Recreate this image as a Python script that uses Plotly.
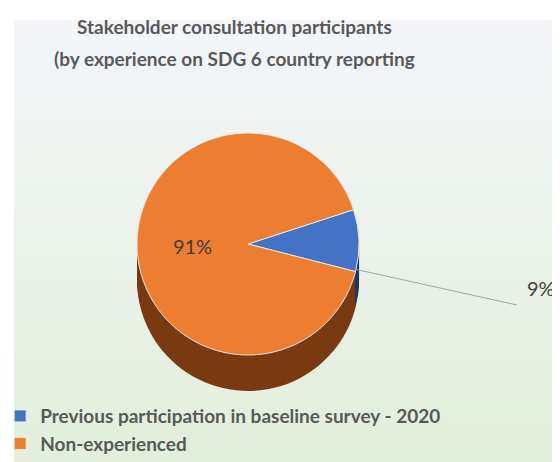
import math
import plotly.graph_objects as go

categories = ["Previous participation in baseline survey - 2020", "Non-experienced"]
values = [9, 91]
colors = ["#4472C4", "#ED7D31"]
side_colors = ["#1F3864", "#7A3A12"]
title_lines = ["Stakeholder consultation participants", "(by experience on SDG 6 country reporting"]

W, H = 560, 462
fig = go.Figure()

# pie geometry (pixels, styling only)
cx, cy, diam, depth = 240, 236, 222, 36
rot = 72


def dom(center_y):
    yc = 1 - center_y / H
    half = diam / 2 / H
    xc = cx / W
    hx = 0.42
    return dict(x=[xc - hx, xc + hx], y=[yc - half, yc + half])


# extruded side (stacked darker layers) for a 3D-like look
for d in range(depth, 0, -2):
    fig.add_trace(go.Pie(
        labels=categories, values=values, sort=False, direction="clockwise", rotation=rot,
        marker=dict(colors=side_colors, line=dict(color="rgba(0,0,0,0)", width=0)),
        textinfo="none", hoverinfo="skip", showlegend=False,
        domain=dom(cy + d),
    ))

fig.add_trace(go.Pie(
    labels=categories,
    values=values,
    sort=False,
    direction="clockwise",
    rotation=rot,
    marker=dict(colors=colors, line=dict(color="#E8E8E8", width=1)),
    texttemplate=["", "%{percent:.0%}"],
    textposition="inside",
    textfont=dict(family="Lato", size=20, color="#404040"),
    insidetextorientation="horizontal",
    domain=dom(cy),
    showlegend=True,
))

# gradient background panel
shapes = []
n = 40
top_c = (0xF3, 0xF5, 0xF9)
bot_c = (0xE2, 0xEF, 0xDA)
y0_px, y1_px = 12, 462
for i in range(n):
    t = i / (n - 1)
    c = tuple(round(top_c[k] + (bot_c[k] - top_c[k]) * t) for k in range(3))
    ya = y0_px + (y1_px - y0_px) * i / n
    yb = y0_px + (y1_px - y0_px) * (i + 1) / n
    shapes.append(dict(type="rect", xref="paper", yref="paper",
                       x0=6 / W, x1=558 / W, y0=1 - yb / H - 0.001, y1=1 - ya / H,
                       fillcolor="rgb(%d,%d,%d)" % c, line=dict(width=0), layer="below"))

# outside label for the small slice, with leader line from its side face
total = sum(values)
mid_ang = math.radians(rot + 360 * values[0] / total / 2)
r = diam / 2
tip_x = cx + r * math.sin(mid_ang) * 0.97
tip_y = cy - r * math.cos(mid_ang) + depth * 0.8
lab_x, lab_y = 533, 280

annotations = [
    dict(text="<b>%s</b>" % title_lines[0], xref="paper", yref="paper",
         x=226 / W, y=1 - 19 / H, xanchor="center", yanchor="middle", showarrow=False,
         font=dict(family="Lato", size=19, color="#595959")),
    dict(text="<b>%s</b>" % title_lines[1], xref="paper", yref="paper",
         x=226 / W, y=1 - 51 / H, xanchor="center", yanchor="middle", showarrow=False,
         font=dict(family="Lato", size=19, color="#595959")),
    dict(text="%d%%" % round(100 * values[0] / total), xref="paper", yref="paper",
         x=lab_x / W, y=1 - lab_y / H, xanchor="center", yanchor="middle",
         showarrow=False, font=dict(family="Lato", size=20, color="#404040")),
]
shapes.append(dict(type="line", xref="paper", yref="paper",
                   x0=tip_x / W, y0=1 - tip_y / H, x1=(lab_x - 24) / W, y1=1 - (lab_y + 17) / H,
                   line=dict(color="#A6A6A6", width=1)))

fig.update_layout(
    width=W, height=H,
    margin=dict(l=0, r=0, t=0, b=0, autoexpand=False),
    paper_bgcolor="white",
    plot_bgcolor="rgba(0,0,0,0)",
    shapes=shapes,
    annotations=annotations,
    legend=dict(
        x=-0.014, y=0.015, xanchor="left", yanchor="bottom",
        font=dict(family="Lato", size=19, color="#595959", weight="bold"),
        bgcolor="rgba(0,0,0,0)",
    ),
)

fig.write_html("out.html")
